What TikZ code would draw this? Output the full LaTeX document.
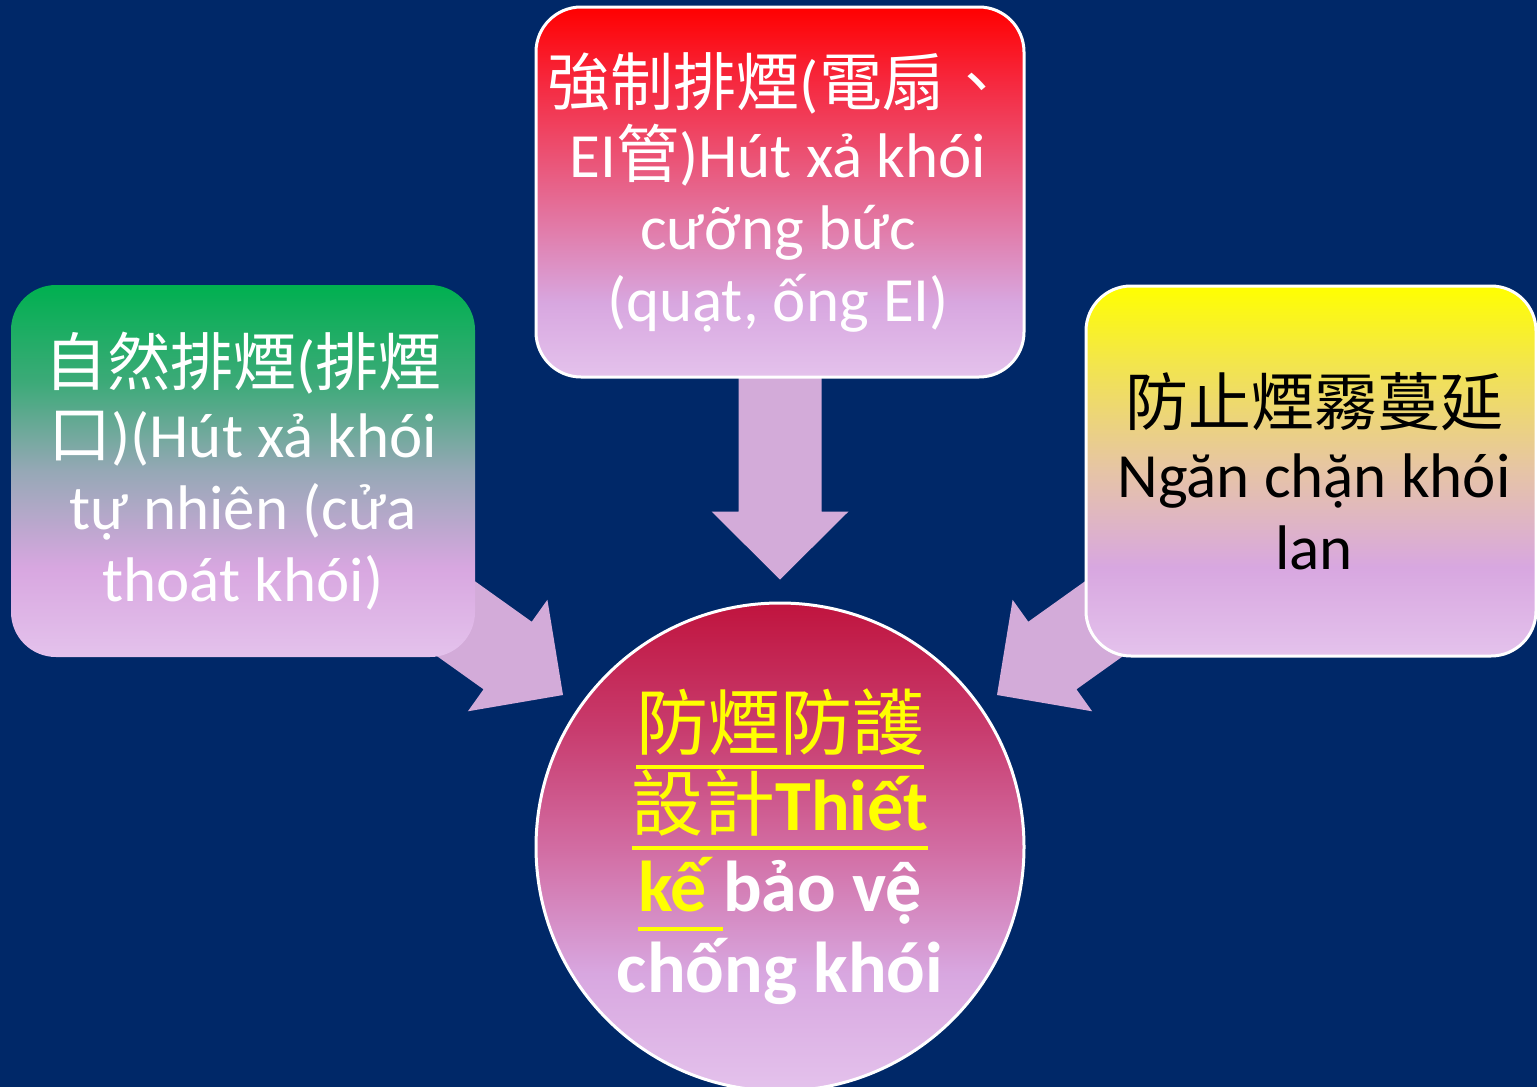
\documentclass[tikz,border=0pt]{standalone}
\usepackage{fontspec}
\setmainfont{Carlito}
\newfontfamily\cjk{Noto Sans CJK TC}
\usetikzlibrary{calc}
\definecolor{navy}{RGB}{0,40,104}
\definecolor{arrowc}{RGB}{211,171,217}
\definecolor{lav}{RGB}{216,167,224}
\definecolor{lavlt}{RGB}{228,194,236}
\definecolor{redtop}{RGB}{255,0,0}
\definecolor{redhi}{RGB}{246,40,62}
\definecolor{redmid}{RGB}{230,102,142}
\definecolor{greentop}{RGB}{0,176,80}
\definecolor{greenhi}{RGB}{60,170,120}
\definecolor{greenmid}{RGB}{150,168,182}
\definecolor{yeltop}{RGB}{255,255,0}
\definecolor{yelhi}{RGB}{242,228,80}
\definecolor{yelmid}{RGB}{230,196,166}
\definecolor{crimtop}{RGB}{192,20,62}
\definecolor{crimhi}{RGB}{200,60,110}
\definecolor{crimmid}{RGB}{210,108,162}
\definecolor{txtyel}{RGB}{255,255,0}
\pgfdeclareverticalshading{topshade}{100bp}{color(0bp)=(lavlt); color(25bp)=(lavlt); color(35bp)=(lav); color(50bp)=(redmid); color(65bp)=(redhi); color(75bp)=(redtop); color(100bp)=(redtop)}
\pgfdeclareverticalshading{leftshade}{100bp}{color(0bp)=(lavlt); color(25bp)=(lavlt); color(37bp)=(lav); color(50bp)=(greenmid); color(62bp)=(greenhi); color(75bp)=(greentop); color(100bp)=(greentop)}
\pgfdeclareverticalshading{rightshade}{100bp}{color(0bp)=(lavlt); color(25bp)=(lavlt); color(37bp)=(lav); color(50bp)=(yelmid); color(64bp)=(yelhi); color(75bp)=(yeltop); color(100bp)=(yeltop)}
\pgfdeclareverticalshading{hubshade}{100bp}{color(0bp)=(lavlt); color(25bp)=(lavlt); color(37bp)=(lav); color(50bp)=(crimmid); color(62bp)=(crimhi); color(75bp)=(crimtop); color(100bp)=(crimtop)}
\pgfdeclarelayer{bglayer}
\pgfdeclarelayer{arrowlayer}
\pgfsetlayers{bglayer,arrowlayer,main}
\newcommand\ulyel[1]{\setbox0=\hbox{#1}\rlap{\color{txtyel}\rule[-19pt]{\wd0}{3.5pt}}\box0}
\newcommand\blockarrow[2]{%
  \path ($(#2)!68pt!(#1)$) coordinate (#2-base);
  \fill[arrowfill] ($(#1)!41.5pt!90:(#2)$) -- ($(#2-base)!41.5pt!90:(#2)$) -- ($(#2-base)!68.5pt!90:(#2)$) -- (#2) -- ($(#2-base)!68.5pt!-90:(#2)$) -- ($(#2-base)!41.5pt!-90:(#2)$) -- ($(#1)!41.5pt!-90:(#2)$) -- cycle;}
\tikzset{
  arrowfill/.style={fill=arrowc},
  boxbase/.style={rectangle, rounded corners=45pt, inner sep=0pt},
  whiteedge/.style={draw=white, line width=3pt},
  txt/.style={align=center, inner sep=0pt, font=\fontsize{63}{72}\selectfont},
  hubtxt/.style={align=center, inner sep=0pt, text=txtyel, font=\bfseries\fontsize{72}{81}\selectfont},
}
\begin{document}
\begin{tikzpicture}[x=1pt,y=-1pt]
\useasboundingbox (0,0) rectangle (1537,1087);
\begin{pgfonlayer}{bglayer}
\fill[navy] (0,0) rectangle (1537,1087);
\end{pgfonlayer}
% nodes
\node[boxbase, shading=topshade, whiteedge, minimum width=488pt, minimum height=370pt] (top) at (780,192) {};
\node[boxbase, shading=leftshade, minimum width=464pt, minimum height=372pt] (left) at (243,471) {};
\node[boxbase, shading=rightshade, whiteedge, minimum width=450pt, minimum height=370pt] (right) at (1311,471) {};
\node[circle, shading=hubshade, whiteedge, minimum size=488pt, inner sep=0pt] (hub) at (780,847) {};
% texts
\node[txt, text=white] (toptext) at (778,192) {{\cjk 強制排煙}({\cjk 電扇、}\\EI{\cjk 管})Hút xả khói\\cưỡng bức\\(quạt, ống EI)};
\node[txt, text=white] (lefttext) at (243,471) {{\cjk 自然排煙}({\cjk 排煙}\\{\cjk 口})(Hút xả khói\\tự nhiên (cửa\\thoát khói)};
\node[txt, text=black] (righttext) at (1314,471) {{\cjk 防止煙霧蔓延}\\Ngăn chặn khói\\lan};
\node[hubtxt] (hubtext) at (780,847) {\ulyel{\mdseries\cjk 防煙防護}\\\ulyel{{\mdseries\cjk 設計}Thiết}\\\ulyel{kế }{\color{white}bảo vệ}\\{\color{white}chống khói}};
% arrows
\coordinate (downStart) at ($(top.south)+(0,-17)$);
\coordinate (downTip) at ($(hub.north)+(0,-22)$);
\coordinate (leftStart) at (319,521);
\coordinate (leftTip) at (563,695);
\coordinate (rightStart) at (1241,521);
\coordinate (rightTip) at (997,695);
\begin{pgfonlayer}{arrowlayer}
\blockarrow{downStart}{downTip}
\blockarrow{leftStart}{leftTip}
\blockarrow{rightStart}{rightTip}
\end{pgfonlayer}
\end{tikzpicture}
\end{document}
